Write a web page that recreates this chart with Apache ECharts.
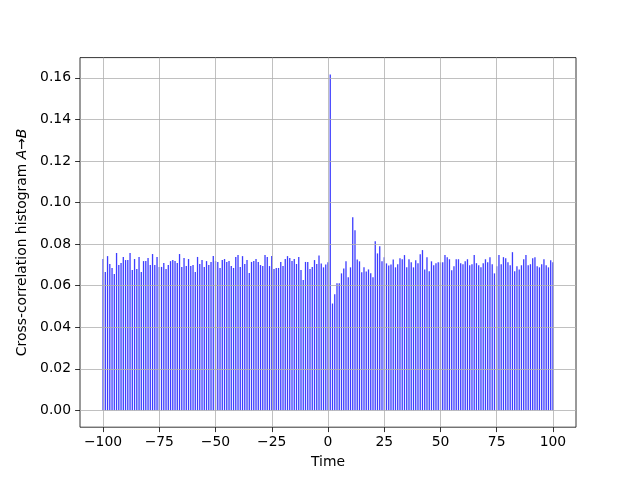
<!DOCTYPE html>
<html><head><meta charset="utf-8">
<script src="https://cdn.jsdelivr.net/npm/echarts@6/dist/echarts.min.js"></script>
<style>html,body{margin:0;padding:0;background:#fff}#c{width:640px;height:480px}</style>
</head><body><div id="c"></div>
<script>
// lag positions (-100 .. 100)
const lagStart = -100, lagEnd = 100;
const lags = [];
for (let t = lagStart; t <= lagEnd; t++) lags.push(t);

// histogram values, one per lag
const valuesNeg = [
  0.0728, 0.0666, 0.0742, 0.0704, 0.0685, 0.0656, 0.0757, 0.0699, 0.0709, 0.0738,
  0.0723, 0.0723, 0.0757, 0.0675, 0.0728, 0.0680, 0.0738, 0.0666, 0.0718, 0.0718,
  0.0733, 0.0699, 0.0752, 0.0699, 0.0738, 0.0690, 0.0690, 0.0709, 0.0680, 0.0699,
  0.0718, 0.0723, 0.0718, 0.0709, 0.0752, 0.0690, 0.0733, 0.0694, 0.0728, 0.0694,
  0.0699, 0.0666, 0.0738, 0.0704, 0.0723, 0.0690, 0.0718,
  0.0699, 0.0714, 0.0742, 0.0718, 0.0714, 0.0685, 0.0723, 0.0728, 0.0714, 0.0718,
  0.0694, 0.0685, 0.0738, 0.0747, 0.0690, 0.0742, 0.0704, 0.0723, 0.0661, 0.0714,
  0.0718, 0.0728, 0.0714, 0.0699, 0.0694, 0.0747, 0.0738, 0.0694, 0.0742, 0.0680,
  0.0685, 0.0685, 0.0714, 0.0694, 0.0728, 0.0742, 0.0733, 0.0718, 0.0728, 0.0704,
  0.0738, 0.0675, 0.0627, 0.0714, 0.0714, 0.0680, 0.0690, 0.0723, 0.0704,
  0.0745, 0.0707, 0.0688, 0.0702, 0.0712
];
const valuesPos = [
  0.1616, 0.0514, 0.0558, 0.0611, 0.0611, 0.0659, 0.0683, 0.0717, 0.0640, 0.0688,
  0.0929, 0.0866, 0.0726, 0.0717, 0.0664, 0.0688, 0.0668, 0.0678, 0.0659, 0.0640,
  0.0813, 0.0755, 0.0789, 0.0717, 0.0736, 0.0707, 0.0697, 0.0702, 0.0726, 0.0688,
  0.0703, 0.0732, 0.0727, 0.0747, 0.0688, 0.0727, 0.0712, 0.0688, 0.0722, 0.0708,
  0.0751, 0.0771, 0.0678, 0.0737, 0.0669, 0.0717, 0.0698, 0.0708, 0.0712, 0.0712,
  0.0712, 0.0747, 0.0737, 0.0727, 0.0674, 0.0693, 0.0727, 0.0727, 0.0708, 0.0703,
  0.0717, 0.0727, 0.0698, 0.0703,
  0.0747, 0.0708, 0.0698, 0.0688, 0.0708, 0.0727, 0.0712, 0.0737, 0.0703, 0.0659,
  0.0693, 0.0747, 0.0703, 0.0737, 0.0732, 0.0712, 0.0698, 0.0761, 0.0669, 0.0693,
  0.0678, 0.0698, 0.0727, 0.0747, 0.0698, 0.0703, 0.0732, 0.0737, 0.0693, 0.0688,
  0.0703, 0.0727, 0.0698, 0.0688, 0.0722, 0.0712
];
const values = valuesNeg.concat(valuesPos);

const xTicks = [-100, -75, -50, -25, 0, 25, 50, 75, 100];
const yTicks = [0, 0.02, 0.04, 0.06, 0.08, 0.10, 0.12, 0.14, 0.16];

const font = 'DejaVu Sans';
const fs = 13.9;
const chart = echarts.init(document.getElementById('c'), null, {renderer: 'canvas'});
chart.setOption({
  animation: false,
  backgroundColor: '#fff',
  grid: {left: 80, top: 57.6, width: 496, height: 369.6, show: true,
         borderColor: '#000', borderWidth: 0.8, backgroundColor: 'transparent'},
  xAxis: {
    type: 'value', min: -110.25, max: 110.25, z: 5,
    axisLine: {show: false, onZero: false},
    axisTick: {show: true, customValues: xTicks, length: 4.9, lineStyle: {color: '#000', width: 0.8}},
    axisLabel: {customValues: xTicks, formatter: v => String(v).replace('-', '\u2212'),
                fontFamily: font, fontSize: fs, color: '#000', margin: 8},
    splitLine: {show: true, lineStyle: {color: '#b0b0b0', width: 0.8}},
    name: 'Time', nameLocation: 'middle', nameGap: 28,
    nameTextStyle: {fontFamily: font, fontSize: fs, color: '#000'}
  },
  yAxis: {
    type: 'value', min: -0.0081, max: 0.1697, z: 5,
    axisLine: {show: false, onZero: false},
    axisTick: {show: true, customValues: yTicks, length: 4.9, lineStyle: {color: '#000', width: 0.8}},
    axisLabel: {customValues: yTicks, formatter: v => v.toFixed(2),
                fontFamily: font, fontSize: fs, color: '#000', margin: 9},
    splitLine: {show: true, lineStyle: {color: '#b0b0b0', width: 0.8}},
    name: '{a|Cross-correlation histogram }{i|A}{a|\u2192}{i|B}',
    nameLocation: 'middle', nameGap: 50,
    nameTextStyle: {fontFamily: font, fontSize: fs, color: '#000',
      rich: {a: {fontFamily: font, fontSize: fs, color: '#000'},
             i: {fontFamily: font, fontSize: fs, color: '#000', fontStyle: 'italic'}}}
  },
  series: [{
    type: 'bar', barWidth: 1.3, z: 2,
    itemStyle: {color: '#3c3cff'},
    data: lags.map((t, i) => [t, values[i]])
  }]
});
</script></body></html>
